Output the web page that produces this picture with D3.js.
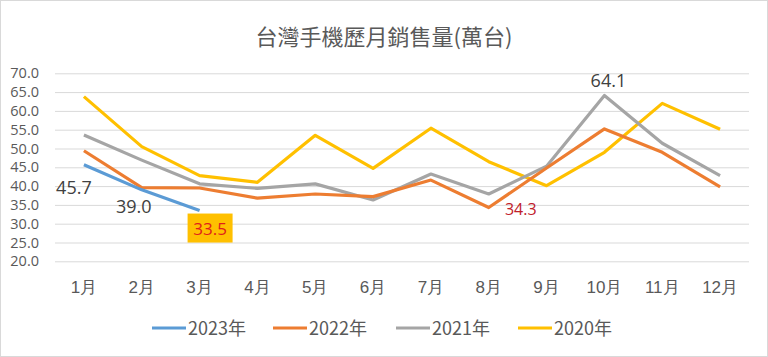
<!DOCTYPE html>
<html><head><meta charset="utf-8">
<script src="https://cdn.jsdelivr.net/npm/d3@7"></script>
<style>
body{margin:0;background:#fff;}
svg{display:block;font-family:"Noto Sans CJK TC","Noto Sans",sans-serif;}
</style></head>
<body><svg id="c" width="768" height="357"></svg>
<script>
const title = "台灣手機歷月銷售量(萬台)";
const months = ["1月","2月","3月","4月","5月","6月","7月","8月","9月","10月","11月","12月"];
const yTicks = [20,25,30,35,40,45,50,55,60,65,70];
const seriesNames = ["2023年","2022年","2021年","2020年"];
const seriesColors = ["#5B9BD5","#ED7D31","#A5A5A5","#FFC000"];
const v2023 = [45.7,39.0,33.5];
const v2022 = [49.4,39.6,39.5,36.8,37.9,37.2,41.6,34.3,44.8,55.2,49.0,39.8];
const v2021 = [53.6,46.9,40.6,39.4,40.6,36.3,43.2,37.9,45.3,64.1,51.4,42.8];
const v2020 = [63.8,50.5,42.8,41.0,53.5,44.7,55.4,46.5,40.1,49.0,62.0,55.1];
const seriesValues = [v2023,v2022,v2021,v2020];

const svg = d3.select("#c");
svg.append("rect").attr("x",0.5).attr("y",0.5).attr("width",767).attr("height",356)
  .attr("fill","#fff").attr("stroke","#d9d9d9");

const x = d3.scaleBand().domain(months).range([55,749]);
const y = d3.scaleLinear().domain([20,70]).range([261.3,73.3]);

svg.append("text").attr("x",384).attr("y",45).attr("text-anchor","middle")
  .attr("font-size",22).attr("fill","#595959").text(title);

// grid
const yAxis = d3.axisLeft(y).tickValues(yTicks).tickFormat(d3.format(".1f"))
  .tickSize(-(749-55)).tickPadding(16);
const gy = svg.append("g").attr("transform","translate(55,0)").call(yAxis);
gy.select(".domain").remove();
gy.selectAll(".tick line").attr("stroke","#d9d9d9");
gy.selectAll(".tick text").attr("fill","#595959").attr("font-size",14.5).attr("font-family","'Open Sans',sans-serif");

const xAxis = d3.axisBottom(x).tickSize(0).tickPadding(20);
const gx = svg.append("g").attr("transform","translate(0,261.3)").call(xAxis);
gx.select(".domain").remove();
gx.selectAll(".tick text").attr("fill","#595959").attr("font-size",17);

const line = d3.line().x((d,i)=>x(months[i])+x.bandwidth()/2).y(d=>y(d));
for (let s = seriesValues.length-1; s>=0; s--) {
  svg.append("path").datum(seriesValues[s]).attr("d",line)
    .attr("fill","none").attr("stroke",seriesColors[s]).attr("stroke-width",3.2)
    .attr("stroke-linejoin","round");
}

const cx = i => x(months[i])+x.bandwidth()/2;
const lf = "'Open Sans',sans-serif";
svg.append("text").attr("x",cx(0)-10).attr("y",y(v2023[0])+29).attr("text-anchor","middle")
  .attr("font-size",18).attr("fill","#404040").attr("font-family",lf).text(v2023[0].toFixed(1));
svg.append("text").attr("x",cx(1)-8).attr("y",y(v2023[1])+23).attr("text-anchor","middle")
  .attr("font-size",18).attr("fill","#404040").attr("font-family",lf).text(v2023[1].toFixed(1));
svg.append("rect").attr("x",cx(2)-12).attr("y",y(v2023[2])+3).attr("width",45).attr("height",29).attr("fill","#FFC000");
svg.append("text").attr("x",cx(2)+10.5).attr("y",y(v2023[2])+24.5).attr("text-anchor","middle")
  .attr("font-size",17).attr("fill","#E0201A").attr("font-family",lf).text(v2023[2].toFixed(1));
svg.append("text").attr("x",cx(7)+32).attr("y",y(v2022[7])+7).attr("text-anchor","middle")
  .attr("font-size",16).attr("fill","#C0202A").attr("font-family",lf).text(v2022[7].toFixed(1));
svg.append("text").attr("x",cx(9)+4).attr("y",y(v2021[9])-8.5).attr("text-anchor","middle")
  .attr("font-size",18).attr("fill","#404040").attr("font-family",lf).text(v2021[9].toFixed(1));

// legend
const lx = [152,273,396,518];
seriesNames.forEach((n,i)=>{
  svg.append("line").attr("x1",lx[i]).attr("x2",lx[i]+34).attr("y1",328).attr("y2",328)
    .attr("stroke",seriesColors[i]).attr("stroke-width",3.2);
  svg.append("text").attr("x",lx[i]+36).attr("y",334.5).attr("font-size",18).attr("fill","#595959").text(n);
});
</script></body></html>
